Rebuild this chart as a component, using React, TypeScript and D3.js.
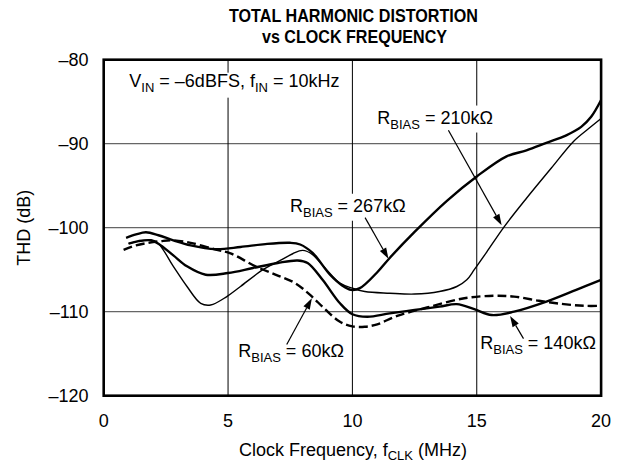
import React from "react";
import * as d3 from "d3";

// ---- data ----
const xTicks = [0, 5, 10, 15, 20];
const yTicks = [-80, -90, -100, -110, -120];

const f267 = [0.9, 1.3, 1.7, 2.2, 2.8, 3.5, 4.5, 5.5, 6.5, 7.5, 7.9, 8.4, 9.1, 9.6, 9.95, 10.3, 11.0, 11.5, 12.5, 13.8, 15.0, 16.2, 17.0, 17.8, 18.6, 19.2, 19.6, 20];
const thd267 = [-101.2, -100.8, -100.55, -100.9, -101.5, -102.1, -102.55, -102.3, -101.95, -101.8, -102.0, -103.0, -105.6, -106.9, -107.4, -107.2, -105.3, -103.6, -100.5, -96.8, -93.9, -91.5, -90.8, -89.9, -89.0, -88.0, -86.8, -84.8];

const f210 = [1.0, 1.4, 1.9, 2.2, 2.8, 3.35, 3.9, 4.3, 4.95, 5.5, 6.4, 7.1, 7.6, 8.0, 8.4, 8.9, 9.5, 10.0, 10.5, 11.5, 12.5, 13.5, 14.2, 14.6, 14.9, 15.4, 16.1, 17.0, 18.0, 18.9, 19.5, 20];
const thd210 = [-101.9, -101.6, -101.5, -101.9, -104.6, -107.0, -109.0, -109.2, -108.2, -107.0, -105.0, -103.9, -103.1, -102.7, -103.2, -104.8, -106.6, -107.2, -107.6, -107.8, -107.9, -107.6, -107.0, -106.2, -105.0, -102.9, -99.9, -96.5, -92.9, -89.7, -88.2, -87.0];

const f140 = [1.0, 1.4, 1.9, 2.2, 2.8, 3.35, 4.1, 5.0, 6.0, 7.0, 7.8, 8.2, 8.8, 9.5, 10.0, 10.6, 11.5, 12.5, 13.5, 14.2, 14.9, 15.6, 16.5, 17.8, 19.0, 20];
const thd140 = [-101.9, -101.6, -101.5, -101.9, -103.3, -104.6, -105.6, -105.4, -104.8, -104.2, -103.9, -104.2, -106.2, -109.0, -110.3, -110.6, -110.2, -109.8, -109.4, -109.1, -109.7, -110.4, -110.0, -108.8, -107.4, -106.2];

const f60 = [0.8, 1.3, 1.8, 2.3, 2.8, 3.5, 4.5, 5.1, 6.1, 7.0, 7.7, 8.3, 8.9, 9.5, 10.0, 10.5, 11.0, 11.8, 13.0, 14.5, 15.7, 16.5, 17.5, 18.5, 19.3, 20];
const thd60 = [-102.65, -102.1, -101.8, -101.6, -101.5, -101.8, -102.6, -103.05, -104.6, -105.7, -106.6, -108.0, -109.7, -111.2, -111.75, -111.8, -111.5, -110.5, -109.5, -108.4, -108.1, -108.2, -108.7, -109.1, -109.3, -109.3];

type Series = { f: number[]; v: number[]; width: number; dash?: string };
const series: Series[] = [
  { f: f267, v: thd267, width: 2.4 },
  { f: f210, v: thd210, width: 1.4 },
  { f: f140, v: thd140, width: 2.4 },
  { f: f60, v: thd60, width: 2.4, dash: "9,4" },
];

// annotations in data units
const labels = [
  { r: "210k\u03A9", f: 11.0, v: -87.6, bg: true },
  { r: "267k\u03A9", f: 7.49, v: -98.1, bg: true },
  { r: "60k\u03A9", f: 5.41, v: -115.36, bg: false },
  { r: "140k\u03A9", f: 15.14, v: -114.48, bg: false },
];
const arrows = [
  { f0: 13.86, v0: -88.4, f1: 16.0, v1: -99.7 },
  { f0: 10.51, v0: -98.8, f1: 11.45, v1: -103.7 },
  { f0: 7.36, v0: -113.9, f1: 8.37, v1: -108.4 },
  { f0: 16.88, v0: -113.2, f1: 16.34, v1: -110.5 },
];

const W = 623;
const H = 464;
const FONT = "'Liberation Sans', Arial, Helvetica, sans-serif";

export default function App() {
  const x = d3.scaleLinear().domain([0, 20]).range([103.7, 601.1]);
  const y = d3.scaleLinear().domain([-120, -80]).range([395.7, 59.7]);
  const line = d3
    .line<[number, number]>()
    .x((d) => x(d[0]))
    .y((d) => y(d[1]))
    .curve(d3.curveCatmullRom.alpha(0.5));

  const arrowHead = (a: { f0: number; v0: number; f1: number; v1: number }) => {
    const x0 = x(a.f0), y0 = y(a.v0), x1 = x(a.f1), y1 = y(a.v1);
    const ang = Math.atan2(y1 - y0, x1 - x0);
    const L = 11, Wd = 3.6;
    const bx = x1 - L * Math.cos(ang), by = y1 - L * Math.sin(ang);
    const px = -Math.sin(ang) * Wd, py = Math.cos(ang) * Wd;
    return {
      shaft: `M${x0},${y0}L${bx},${by}`,
      head: `M${x1},${y1}L${bx + px},${by + py}L${bx - px},${by - py}Z`,
    };
  };

  return (
    <svg width={W} height={H} style={{ display: "block", position: "absolute", left: 0, top: 0 }} fontFamily={FONT}>
      <rect x={0} y={0} width={W} height={H} fill="#fff" />
      {/* title */}
      <text x={353.5} y={22} textAnchor="middle" fontWeight="bold" fontSize={18} textLength={249} lengthAdjust="spacingAndGlyphs">
        TOTAL HARMONIC DISTORTION
      </text>
      <text x={354.5} y={42.5} textAnchor="middle" fontWeight="bold" fontSize={18} textLength={185} lengthAdjust="spacingAndGlyphs">
        vs CLOCK FREQUENCY
      </text>

      {/* grid */}
      {yTicks.slice(1, -1).map((t) => (
        <line key={"gy" + t} x1={x(0)} x2={x(20)} y1={y(t)} y2={y(t)} stroke="#666" strokeWidth={1.3} />
      ))}
      {xTicks.slice(1, -1).map((t) => (
        <line key={"gx" + t} x1={x(t)} x2={x(t)} y1={y(-80)} y2={y(-120)} stroke="#000" strokeWidth={1} />
      ))}

      {/* label backgrounds (break grid lines) */}
      <rect x={x(1.03) - 4} y={y(-83.21) - 14} width={222} height={25} fill="#fff" />
      {labels.filter((l) => l.bg).map((l) => (
        <rect key={"bg" + l.r} x={x(l.f) - 3} y={y(l.v) - 18} width={122} height={27} fill="#fff" />
      ))}

      {/* curves */}
      {series.map((s, i) => (
        <path
          key={i}
          d={line(s.f.map((f, j) => [f, s.v[j]] as [number, number])) || ""}
          fill="none"
          stroke="#000"
          strokeWidth={s.width}
          strokeDasharray={s.dash}
          strokeLinejoin="round"
        />
      ))}

      {/* frame */}
      <rect x={x(0)} y={y(-80)} width={x(20) - x(0)} height={y(-120) - y(-80)} fill="none" stroke="#000" strokeWidth={2.6} />

      {/* tick labels */}
      {yTicks.map((t) => (
        <text key={"ty" + t} x={88.5} y={y(t) + 6.5} textAnchor="end" fontSize={18}>
          {"\u2013" + Math.abs(t)}
        </text>
      ))}
      {xTicks.map((t) => (
        <text key={"tx" + t} x={x(t)} y={427} textAnchor="middle" fontSize={18}>
          {t}
        </text>
      ))}

      {/* axis titles */}
      <text x={353} y={456} textAnchor="middle" fontSize={18}>
        Clock Frequency, f<tspan fontSize={13} dy={4}>CLK</tspan>
        <tspan dy={-4}> (MHz)</tspan>
      </text>
      <text transform={`translate(29.5,${y(-100)}) rotate(-90)`} textAnchor="middle" fontSize={18}>
        THD (dB)
      </text>

      {/* condition label */}
      <text x={x(1.03)} y={y(-83.21)} fontSize={18}>
        V<tspan fontSize={13} dy={5}>IN</tspan>
        <tspan dy={-5}> = {"\u2013"}6dBFS, f</tspan>
        <tspan fontSize={13} dy={5}>IN</tspan>
        <tspan dy={-5}> = 10kHz</tspan>
      </text>

      {/* R_BIAS labels */}
      {labels.map((l) => (
        <text key={"l" + l.r} x={x(l.f)} y={y(l.v)} fontSize={18}>
          R<tspan fontSize={13} dy={5}>BIAS</tspan>
          <tspan dy={-5}> = {l.r}</tspan>
        </text>
      ))}

      {/* arrows */}
      {arrows.map((a, i) => {
        const p = arrowHead(a);
        return (
          <g key={"a" + i}>
            <path d={p.shaft} stroke="#000" strokeWidth={1.2} fill="none" />
            <path d={p.head} fill="#000" />
          </g>
        );
      })}
    </svg>
  );
}
